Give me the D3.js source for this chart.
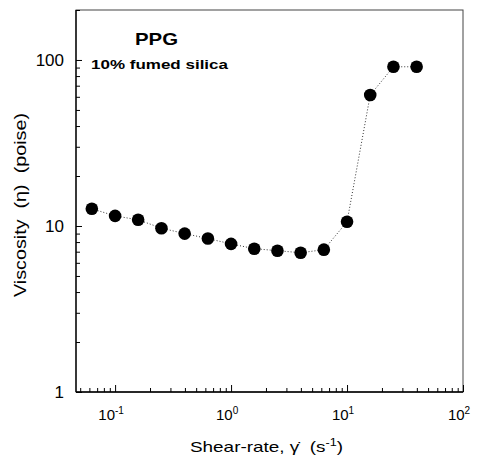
<!DOCTYPE html>
<html>
<head>
<meta charset="utf-8">
<script src="https://cdn.jsdelivr.net/npm/d3@7"></script>
<style>
  body { margin: 0; background: #fff; }
  text { font-family: "Liberation Sans", Arial, Helvetica, sans-serif; fill: #000; }
</style>
</head>
<body>
<div id="graph"></div>
<script>
// data
const shearRate = [0.063, 0.1, 0.158, 0.251, 0.398, 0.631, 1, 1.585, 2.512, 3.981, 6.31, 10, 15.85, 25.12, 39.81]
const viscosity = [12.7, 11.5, 10.9, 9.7, 9.0, 8.4, 7.8, 7.3, 7.1, 6.9, 7.2, 10.6, 61.5, 91, 91]
const xMajor = [0.1, 1, 10, 100]
const xMajorLabels = [['10', '-1'], ['10', '0'], ['10', '1'], ['10', '2']]
const yMajor = [1, 10, 100]
const yMajorLabels = ['1', '10', '100']

const total_width = 479
const total_height = 460
const margins = { top: 10, left: 76, right: 16, bottom: 68 }
const width = total_width - margins.left - margins.right
const height = total_height - margins.top - margins.bottom

const svg = d3.select('#graph').append('svg')
  .attr('width', total_width)
  .attr('height', total_height)

const g = svg.append('g')
  .attr('transform', `translate(${margins.left}, ${margins.top})`)

const x = d3.scaleLog().domain([0.046, 100]).range([0, width])
const y = d3.scaleLog().domain([1, 200]).range([height, 0])

// minor tick values for each decade
let xMinor = []
d3.range(-2, 2).forEach(e => {
  for (let m = 2; m <= 9; m++) {
    let v = m * Math.pow(10, e)
    if (v >= 0.046 && v <= 100) xMinor.push(v)
  }
})
let yMinor = []
d3.range(0, 3).forEach(e => {
  for (let m = 2; m <= 9; m++) {
    let v = m * Math.pow(10, e)
    if (v <= 200) yMinor.push(v)
  }
})

// frame
g.append('rect')
  .attr('width', width)
  .attr('height', height)
  .attr('fill', 'none')
  .attr('stroke', '#444')
  .attr('stroke-width', 1)

function styleAxis(sel) {
  sel.select('.domain').remove()
  sel.selectAll('line').attr('stroke', '#000').attr('stroke-width', 1)
}

g.append('g')
  .attr('transform', `translate(0, ${height})`)
  .call(d3.axisBottom(x).tickValues(xMinor).tickSize(-4).tickFormat(''))
  .call(styleAxis)
g.append('g')
  .attr('transform', `translate(0, ${height})`)
  .call(d3.axisBottom(x).tickValues(xMajor).tickSize(-7).tickFormat(''))
  .call(styleAxis)
g.append('g')
  .call(d3.axisLeft(y).tickValues(yMinor).tickSize(-4).tickFormat(''))
  .call(styleAxis)
g.append('g')
  .call(d3.axisLeft(y).tickValues(yMajor).tickSize(-6).tickFormat(''))
  .call(styleAxis)

// left and bottom axis lines
g.append('line').attr('x1', 0).attr('x2', 0).attr('y1', 0).attr('y2', height)
  .attr('stroke', '#000').attr('stroke-width', 1.3)
g.append('line').attr('x1', 0).attr('x2', width).attr('y1', height).attr('y2', height)
  .attr('stroke', '#000').attr('stroke-width', 1.3)

// tick labels
g.selectAll('.ylab')
  .data(yMajor)
  .enter()
  .append('text')
  .attr('class', 'ylab')
  .attr('x', -12)
  .attr('y', d => y(d) + 6)
  .attr('text-anchor', 'end')
  .style('font-size', '17px')
  .text((d, i) => yMajorLabels[i])

const xl = g.selectAll('.xlab')
  .data(xMajor)
  .enter()
  .append('text')
  .attr('class', 'xlab')
  .attr('x', d => x(d) - 4)
  .attr('y', height + 28)
  .attr('text-anchor', 'middle')
  .style('font-size', '15px')
xl.append('tspan').text((d, i) => xMajorLabels[i][0])
xl.append('tspan').attr('dy', -6).style('font-size', '10px').text((d, i) => xMajorLabels[i][1])

// dotted line and markers
const pts = shearRate.map((s, i) => ({ s: s, v: viscosity[i] }))

g.append('path')
  .datum(pts)
  .attr('fill', 'none')
  .attr('stroke', '#333')
  .attr('stroke-width', 1)
  .attr('stroke-dasharray', '1,2')
  .attr('d', d3.line().x(d => x(d.s)).y(d => y(d.v)))

g.selectAll('circle')
  .data(pts)
  .enter()
  .append('circle')
  .attr('cx', d => x(d.s))
  .attr('cy', d => y(d.v))
  .attr('r', 6.3)
  .attr('fill', '#000')

// annotations
svg.append('text')
  .attr('x', 135).attr('y', 45)
  .attr('textLength', 43).attr('lengthAdjust', 'spacingAndGlyphs')
  .style('font-size', '17px').style('font-weight', 'bold')
  .text('PPG')
svg.append('text')
  .attr('x', 91).attr('y', 69)
  .attr('textLength', 137).attr('lengthAdjust', 'spacingAndGlyphs')
  .style('font-size', '13.5px').style('font-weight', 'bold')
  .text('10% fumed silica')

// axis titles
const xt = svg.append('text')
  .attr('x', 190).attr('y', 452)
  .attr('textLength', 153).attr('lengthAdjust', 'spacingAndGlyphs')
  .style('font-size', '15px')
xt.append('tspan').text('Shear-rate, \u03B3\u0307\u00A0 (s')
xt.append('tspan').attr('dy', -6).style('font-size', '10px').text('-1')
xt.append('tspan').attr('dy', 6).text(')')

svg.append('text')
  .attr('transform', 'translate(26, 297) rotate(-90)')
  .attr('textLength', 184).attr('lengthAdjust', 'spacingAndGlyphs')
  .style('font-size', '16px')
  .text('Viscosity\u00A0 (\u03B7)\u00A0 (poise)')
</script>
</body>
</html>
